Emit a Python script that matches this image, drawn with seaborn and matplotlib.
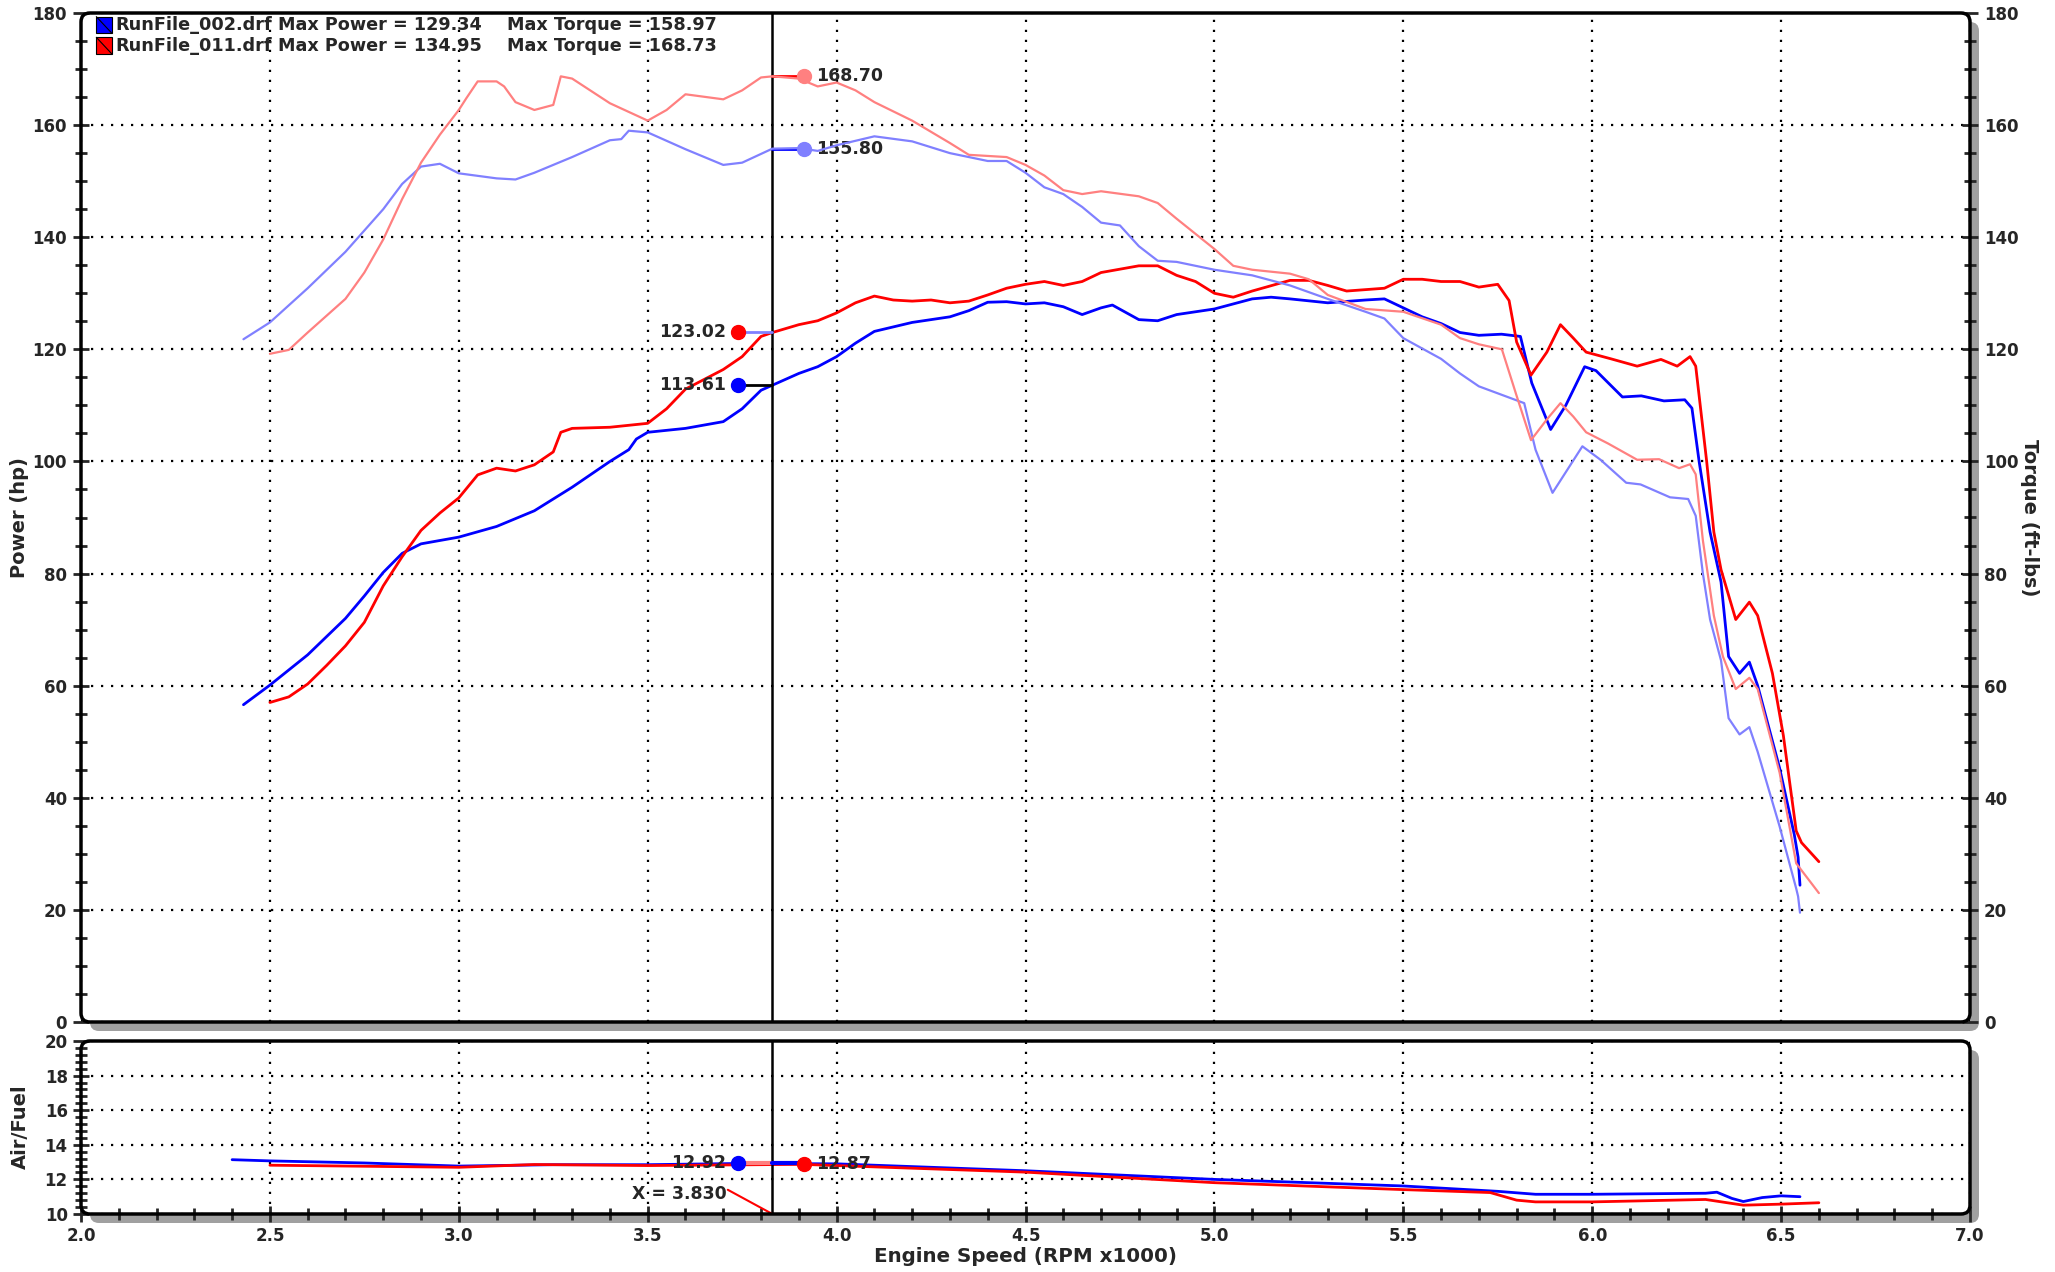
import matplotlib.pyplot as plt
import matplotlib.patches as mpatches
from matplotlib.ticker import MultipleLocator
import pandas as pd
import seaborn as sns

# --- RunFile_002 (blue) ---
power_002_rpm = [2.43, 2.5, 2.6, 2.7, 2.75, 2.8, 2.85, 2.9, 3.0, 3.1, 3.2, 3.3, 3.4, 3.45, 3.47, 3.5, 3.6, 3.7,
                 3.75, 3.8, 3.83, 3.9, 3.95, 4.0, 4.05, 4.1, 4.2, 4.3, 4.35, 4.4, 4.45, 4.5, 4.55, 4.6, 4.65, 4.7,
                 4.73, 4.8, 4.85, 4.9, 5.0, 5.05, 5.1, 5.15, 5.2, 5.3, 5.4, 5.45, 5.5, 5.55, 5.6, 5.65, 5.7, 5.76,
                 5.81, 5.84, 5.89, 5.93, 5.98, 6.01, 6.08, 6.13, 6.19, 6.245, 6.264, 6.283, 6.312, 6.341, 6.361,
                 6.39, 6.416, 6.438, 6.496, 6.535, 6.545, 6.55]
power_002_hp = [56.6, 60.1, 65.5, 72.0, 76.0, 80.2, 83.6, 85.3, 86.5, 88.4, 91.2, 95.4, 100.0, 102.1, 104.0, 105.2,
                105.9, 107.1, 109.4, 112.7, 113.6, 115.7, 116.9, 118.7, 121.1, 123.2, 124.8, 125.8, 126.9, 128.4,
                128.5, 128.1, 128.3, 127.6, 126.2, 127.4, 127.9, 125.3, 125.1, 126.2, 127.2, 128.1, 129.0, 129.3,
                129.0, 128.3, 128.8, 129.0, 127.4, 125.8, 124.6, 123.0, 122.5, 122.7, 122.3, 114.0, 105.7, 110.0,
                116.9, 116.2, 111.5, 111.7, 110.8, 111.0, 109.5, 100.0, 87.4, 78.5, 65.2, 62.2, 64.2, 60.0, 45.3,
                33.4, 29.4, 24.4]

torque_002_rpm = [2.43, 2.5, 2.6, 2.7, 2.8, 2.85, 2.9, 2.95, 3.0, 3.1, 3.15, 3.2, 3.3, 3.4, 3.43, 3.45, 3.5, 3.6,
                  3.7, 3.75, 3.83, 3.9, 3.95, 4.0, 4.1, 4.2, 4.3, 4.4, 4.45, 4.5, 4.55, 4.6, 4.65, 4.7, 4.75, 4.8,
                  4.85, 4.9, 5.0, 5.1, 5.2, 5.3, 5.4, 5.45, 5.5, 5.6, 5.65, 5.7, 5.82, 5.85, 5.895, 5.974, 6.022,
                  6.09, 6.128, 6.206, 6.254, 6.274, 6.293, 6.312, 6.341, 6.361, 6.39, 6.416, 6.438, 6.496, 6.54,
                  6.545, 6.55]
torque_002_ftlb = [121.8, 124.8, 130.9, 137.4, 145.0, 149.5, 152.6, 153.1, 151.4, 150.5, 150.3, 151.5, 154.3,
                   157.3, 157.5, 159.0, 158.7, 155.7, 152.9, 153.3, 155.8, 155.9, 155.4, 156.4, 158.0, 157.1, 155.0,
                   153.6, 153.6, 151.5, 148.9, 147.7, 145.4, 142.6, 142.1, 138.4, 135.8, 135.6, 134.2, 133.2, 131.4,
                   129.0, 126.7, 125.5, 122.0, 118.3, 115.7, 113.4, 110.4, 102.1, 94.4, 102.7, 100.3, 96.2, 95.9,
                   93.6, 93.3, 90.3, 80.0, 71.8, 64.5, 54.2, 51.3, 52.6, 48.2, 34.9, 23.8, 22.4, 19.5]

afr_002_rpm = [2.4, 2.5, 2.75, 3.0, 3.25, 3.5, 3.74, 4.0, 4.5, 5.0, 5.5, 5.75, 5.85, 6.0, 6.3, 6.33, 6.37, 6.4,
               6.45, 6.5, 6.55]
afr_002 = [13.14, 13.07, 12.95, 12.77, 12.85, 12.85, 12.92, 12.9, 12.5, 12.0, 11.62, 11.31, 11.14, 11.14, 11.2,
           11.26, 10.9, 10.72, 10.95, 11.05, 11.0]

# --- RunFile_011 (red) ---
power_011_rpm = [2.5, 2.55, 2.6, 2.65, 2.7, 2.75, 2.8, 2.85, 2.9, 2.95, 3.0, 3.05, 3.1, 3.15, 3.2, 3.25, 3.27, 3.3,
                 3.4, 3.5, 3.55, 3.6, 3.7, 3.75, 3.8, 3.83, 3.9, 3.95, 4.0, 4.05, 4.1, 4.15, 4.2, 4.25, 4.3, 4.35,
                 4.4, 4.45, 4.5, 4.55, 4.6, 4.65, 4.7, 4.8, 4.85, 4.9, 4.95, 5.0, 5.05, 5.1, 5.2, 5.25, 5.3, 5.35,
                 5.45, 5.5, 5.55, 5.6, 5.65, 5.7, 5.75, 5.78, 5.8, 5.838, 5.88, 5.916, 5.95, 5.984, 6.05, 6.119,
                 6.182, 6.225, 6.259, 6.274, 6.303, 6.322, 6.341, 6.38, 6.416, 6.438, 6.477, 6.506, 6.54, 6.554, 6.6]
power_011_hp = [57.0, 58.0, 60.3, 63.6, 67.1, 71.3, 77.8, 83.0, 87.7, 90.8, 93.5, 97.6, 98.8, 98.3, 99.4, 101.7,
                105.2, 105.9, 106.1, 106.8, 109.4, 112.9, 116.4, 118.7, 122.3, 123.0, 124.4, 125.1, 126.5, 128.3,
                129.5, 128.8, 128.6, 128.8, 128.3, 128.6, 129.7, 130.9, 131.6, 132.1, 131.4, 132.1, 133.7, 134.9,
                134.9, 133.2, 132.1, 130.0, 129.3, 130.4, 132.3, 132.3, 131.4, 130.4, 130.9, 132.5, 132.5, 132.1,
                132.1, 131.1, 131.6, 128.7, 121.3, 115.4, 119.5, 124.4, 122.0, 119.5, 118.3, 117.0, 118.2, 117.0,
                118.7, 117.0, 100.0, 87.4, 80.7, 71.8, 74.9, 72.5, 62.2, 51.1, 34.1, 32.0, 28.6]

torque_011_rpm = [2.5, 2.55, 2.6, 2.7, 2.75, 2.8, 2.85, 2.9, 2.95, 3.0, 3.02, 3.05, 3.1, 3.12, 3.15, 3.2, 3.25,
                  3.27, 3.3, 3.4, 3.5, 3.55, 3.6, 3.7, 3.75, 3.8, 3.83, 3.9, 3.95, 4.0, 4.05, 4.1, 4.2, 4.3, 4.35,
                  4.45, 4.5, 4.55, 4.6, 4.65, 4.7, 4.8, 4.85, 4.9, 5.0, 5.05, 5.1, 5.2, 5.25, 5.3, 5.4, 5.5, 5.6,
                  5.65, 5.7, 5.761, 5.8, 5.838, 5.88, 5.916, 5.95, 5.984, 6.042, 6.119, 6.177, 6.23, 6.259, 6.274,
                  6.293, 6.322, 6.346, 6.38, 6.416, 6.438, 6.496, 6.54, 6.6]
torque_011_ftlb = [119.2, 119.9, 123.0, 129.0, 133.7, 139.6, 146.8, 153.3, 158.3, 162.7, 164.8, 167.8, 167.8,
                   166.9, 164.1, 162.7, 163.6, 168.7, 168.3, 163.9, 160.8, 162.7, 165.5, 164.6, 166.2, 168.5, 168.7,
                   168.3, 166.9, 167.6, 166.2, 164.1, 160.8, 156.8, 154.7, 154.3, 152.9, 151.0, 148.4, 147.7, 148.2,
                   147.3, 146.1, 143.3, 137.9, 134.9, 134.2, 133.5, 132.5, 129.7, 127.2, 126.7, 124.4, 122.0, 120.9,
                   120.0, 111.7, 103.8, 107.5, 110.4, 108.0, 105.2, 103.2, 100.3, 100.4, 98.8, 99.5, 97.7, 85.9,
                   72.5, 65.2, 59.4, 61.4, 59.4, 44.5, 28.3, 23.0]

afr_011_rpm = [2.5, 2.75, 3.0, 3.2, 3.5, 3.91, 4.0, 4.5, 5.0, 5.5, 5.73, 5.8, 5.85, 6.0, 6.3, 6.4, 6.5, 6.6]
afr_011 = [12.82, 12.76, 12.7, 12.86, 12.8, 12.87, 12.8, 12.42, 11.81, 11.41, 11.24, 10.8, 10.7, 10.7, 10.84,
           10.51, 10.57, 10.65]

# --- cursor readout ---
cursor_rpm = 3.83
left_tag_rpm = 3.74
right_tag_rpm = 3.915
tag_power = [123.02, 113.61]      # 011, 002
tag_torque = [168.70, 155.80]     # 011, 002
tag_afr = [12.92, 12.87]          # 002, 011
legend_files = ["RunFile_002.drf", "RunFile_011.drf"]
legend_power = ["Max Power = 129.34", "Max Power = 134.95"]
legend_torque = ["Max Torque = 158.97", "Max Torque = 168.73"]

BLUE, RED = "#0000ff", "#ff0000"
LBLUE, LRED = "#8080ff", "#ff8080"

sns.set_style("white")
plt.rcParams['font.family'] = ['DejaVu Sans']
plt.rcParams['font.weight'] = 'bold'

W, H = 2055, 1272
fig = plt.figure(figsize=(W / 100, H / 100), dpi=100)
top_box = [81 / W, 1 - 1022 / H, 1889 / W, 1009 / H]
bot_box = [81 / W, 1 - 1214 / H, 1889 / W, 173 / H]
R = 9 / W  # corner radius (in figure-width units)


def rbox(x, y, w, h, **kw):
    return mpatches.FancyBboxPatch((x, y), w, h, boxstyle=f"round,pad=0,rounding_size={R}",
                                   mutation_aspect=W / H, **kw)


# background layer: drop shadows + white panel fills
bg = fig.add_axes([0, 0, 1, 1], zorder=-10)
bg.set_axis_off()
bg.set_xlim(0, 1)
bg.set_ylim(0, 1)
for b in (top_box, bot_box):
    bg.add_patch(rbox(b[0] + 9 / W, b[1] - 9 / H, b[2], b[3], facecolor="#a0a0a0", edgecolor="none"))
    bg.add_patch(rbox(b[0], b[1], b[2], b[3], facecolor="white", edgecolor="none"))

ax = fig.add_axes(top_box)
ax2 = ax.twinx()
axb = fig.add_axes(bot_box)

dot = (0, (1, 3.5))

power = pd.concat([pd.DataFrame({"rpm": power_002_rpm, "val": power_002_hp, "run": "002"}),
                   pd.DataFrame({"rpm": power_011_rpm, "val": power_011_hp, "run": "011"})])
torque = pd.concat([pd.DataFrame({"rpm": torque_002_rpm, "val": torque_002_ftlb, "run": "002"}),
                    pd.DataFrame({"rpm": torque_011_rpm, "val": torque_011_ftlb, "run": "011"})])
afr = pd.concat([pd.DataFrame({"rpm": afr_002_rpm, "val": afr_002, "run": "002"}),
                 pd.DataFrame({"rpm": afr_011_rpm, "val": afr_011, "run": "011"})])

sns.lineplot(data=torque, x="rpm", y="val", hue="run", palette={"002": LBLUE, "011": LRED},
             estimator=None, linewidth=1.6, legend=False, ax=ax2)
sns.lineplot(data=power, x="rpm", y="val", hue="run", palette={"002": BLUE, "011": RED},
             estimator=None, linewidth=2.0, legend=False, ax=ax)
sns.lineplot(data=afr, x="rpm", y="val", hue="run", palette={"002": BLUE, "011": RED},
             estimator=None, linewidth=2.0, legend=False, ax=axb)

# axes setup
for a in (ax, ax2):
    a.set_ylim(0, 180)
    a.yaxis.set_major_locator(MultipleLocator(20))
    a.yaxis.set_minor_locator(MultipleLocator(5))
    a.set_xlabel("")
    a.set_ylabel("")
for a in (ax, ax2, axb):
    a.set_xlim(2.0, 7.0)
    a.xaxis.set_major_locator(MultipleLocator(0.5))
    a.patch.set_visible(False)
    for s in a.spines.values():
        s.set_visible(False)
ax.set_zorder(1)
ax2.set_zorder(2)
axb.set_zorder(1)

ax.tick_params(axis="y", which="major", direction="inout", length=12, width=2, labelsize=12, pad=4, left=True)
ax.tick_params(axis="y", which="minor", direction="inout", length=8, width=2, left=True)
ax2.tick_params(axis="y", which="major", direction="inout", length=12, width=2, labelsize=12, pad=4, right=True)
ax2.tick_params(axis="y", which="minor", direction="inout", length=8, width=2, right=True)
ax.tick_params(axis="x", length=0, labelbottom=False)
ax2.tick_params(axis="x", length=0, labelbottom=False)
ax.grid(True, which="major", color="black", linestyle=dot, linewidth=1.6)

axb.set_ylim(10, 20)
axb.yaxis.set_major_locator(MultipleLocator(2))
axb.yaxis.set_minor_locator(MultipleLocator(0.4))
axb.xaxis.set_minor_locator(MultipleLocator(0.1))
axb.xaxis.set_major_formatter(plt.FormatStrFormatter("%.1f"))
axb.tick_params(axis="both", which="major", direction="inout", length=12, width=2, labelsize=12,
                left=True, bottom=True)
axb.tick_params(axis="both", which="minor", direction="inout", length=9, width=2, left=True, bottom=True)
axb.grid(True, which="major", color="black", linestyle=dot, linewidth=1.6)
axb.set_xlabel("")
axb.set_ylabel("")
for lab in ax.get_yticklabels() + ax2.get_yticklabels() + axb.get_yticklabels() + axb.get_xticklabels():
    lab.set_fontweight("bold")

# rounded panel frames on top
fr = fig.add_axes([0, 0, 1, 1], zorder=20)
fr.set_axis_off()
fr.set_xlim(0, 1)
fr.set_ylim(0, 1)
for b in (top_box, bot_box):
    fr.add_patch(rbox(b[0], b[1], b[2], b[3], facecolor="none", edgecolor="black", linewidth=2.5))

# cursor
ax.axvline(cursor_rpm, color="black", linewidth=1.8, zorder=5)
axb.axvline(cursor_rpm, color="black", linewidth=1.8, zorder=5)

# cursor readouts (top)
tag_kw = dict(fontsize=12.5, fontweight="bold", va="center", zorder=7)
ax.plot([left_tag_rpm, cursor_rpm], [tag_power[0]] * 2, color=LBLUE, lw=2, zorder=6)
ax.plot([left_tag_rpm, cursor_rpm], [tag_power[1]] * 2, color="black", lw=2, zorder=6)
ax.plot([cursor_rpm, right_tag_rpm], [tag_torque[0]] * 2, color=RED, lw=2, zorder=6)
ax.plot([cursor_rpm, right_tag_rpm], [tag_torque[1]] * 2, color=BLUE, lw=2, zorder=6)
ax.plot(left_tag_rpm, tag_power[0], "o", color=RED, ms=10, zorder=7)
ax.plot(left_tag_rpm, tag_power[1], "o", color=BLUE, ms=10, zorder=7)
ax.plot(right_tag_rpm, tag_torque[0], "o", color=LRED, ms=10, zorder=7)
ax.plot(right_tag_rpm, tag_torque[1], "o", color=LBLUE, ms=10, zorder=7)
for v in tag_power:
    ax.annotate(f"{v:.2f}", (left_tag_rpm, v), xytext=(-9, 0), textcoords="offset points", ha="right", **tag_kw)
for v in tag_torque:
    ax.annotate(f"{v:.2f}", (right_tag_rpm, v), xytext=(8, 0), textcoords="offset points", ha="left", **tag_kw)

# cursor readouts (bottom)
axb.plot([left_tag_rpm, cursor_rpm], [tag_afr[0]] * 2, color=LRED, lw=3, zorder=6)
axb.plot([cursor_rpm, right_tag_rpm], [tag_afr[0]] * 2, color=BLUE, lw=3, zorder=6)
axb.plot(left_tag_rpm, tag_afr[0], "o", color=BLUE, ms=10, zorder=7)
axb.plot(right_tag_rpm, tag_afr[1], "o", color=RED, ms=10, zorder=7)
axb.annotate(f"{tag_afr[0]:.2f}", (left_tag_rpm, tag_afr[0]), xytext=(-9, 0), textcoords="offset points",
             ha="right", **tag_kw)
axb.annotate(f"{tag_afr[1]:.2f}", (right_tag_rpm, tag_afr[1]), xytext=(8, 0), textcoords="offset points",
             ha="left", **tag_kw)
axb.text(3.71, 11.15, f"X = {cursor_rpm:.3f}", ha="right", va="center", fontsize=12.5, fontweight="bold",
         zorder=7)
axb.plot([3.712, cursor_rpm], [11.4, 10.0], color=RED, lw=1.5, zorder=6, clip_on=False)

# legend block
for i, c in enumerate([BLUE, RED]):
    yc = 0.9882 - i * 0.0205
    ax.add_patch(mpatches.Rectangle((0.0081, yc - 0.0082), 0.0082, 0.0164, transform=ax.transAxes,
                                    facecolor=c, edgecolor="black", lw=0.8, zorder=8))
    ax.plot([0.0081, 0.0163], [yc + 0.0082, yc - 0.0082], transform=ax.transAxes, color="black", lw=0.8,
            zorder=9)
    lkw = dict(transform=ax.transAxes, fontsize=12.7, fontweight="bold", va="center", ha="left", zorder=8)
    ax.text(0.0184, yc, legend_files[i], **lkw)
    ax.text(0.1042, yc, legend_power[i], **lkw)
    ax.text(0.2254, yc, legend_torque[i], **lkw)

# axis titles
fig.text(20 / W, 1 - 518 / H, "Power (hp)", rotation=90, ha="center", va="center", fontsize=14, fontweight="bold")
fig.text(2029 / W, 1 - 518 / H, "Torque (ft-lbs)", rotation=270, ha="center", va="center", fontsize=14,
         fontweight="bold")
fig.text(20 / W, 1 - 1127 / H, "Air/Fuel", rotation=90, ha="center", va="center", fontsize=14, fontweight="bold")
fig.text(1025 / W, 1 - 1256 / H, "Engine Speed (RPM x1000)", ha="center", va="center", fontsize=14.3,
         fontweight="bold")

fig.savefig("out.png", dpi=100)
